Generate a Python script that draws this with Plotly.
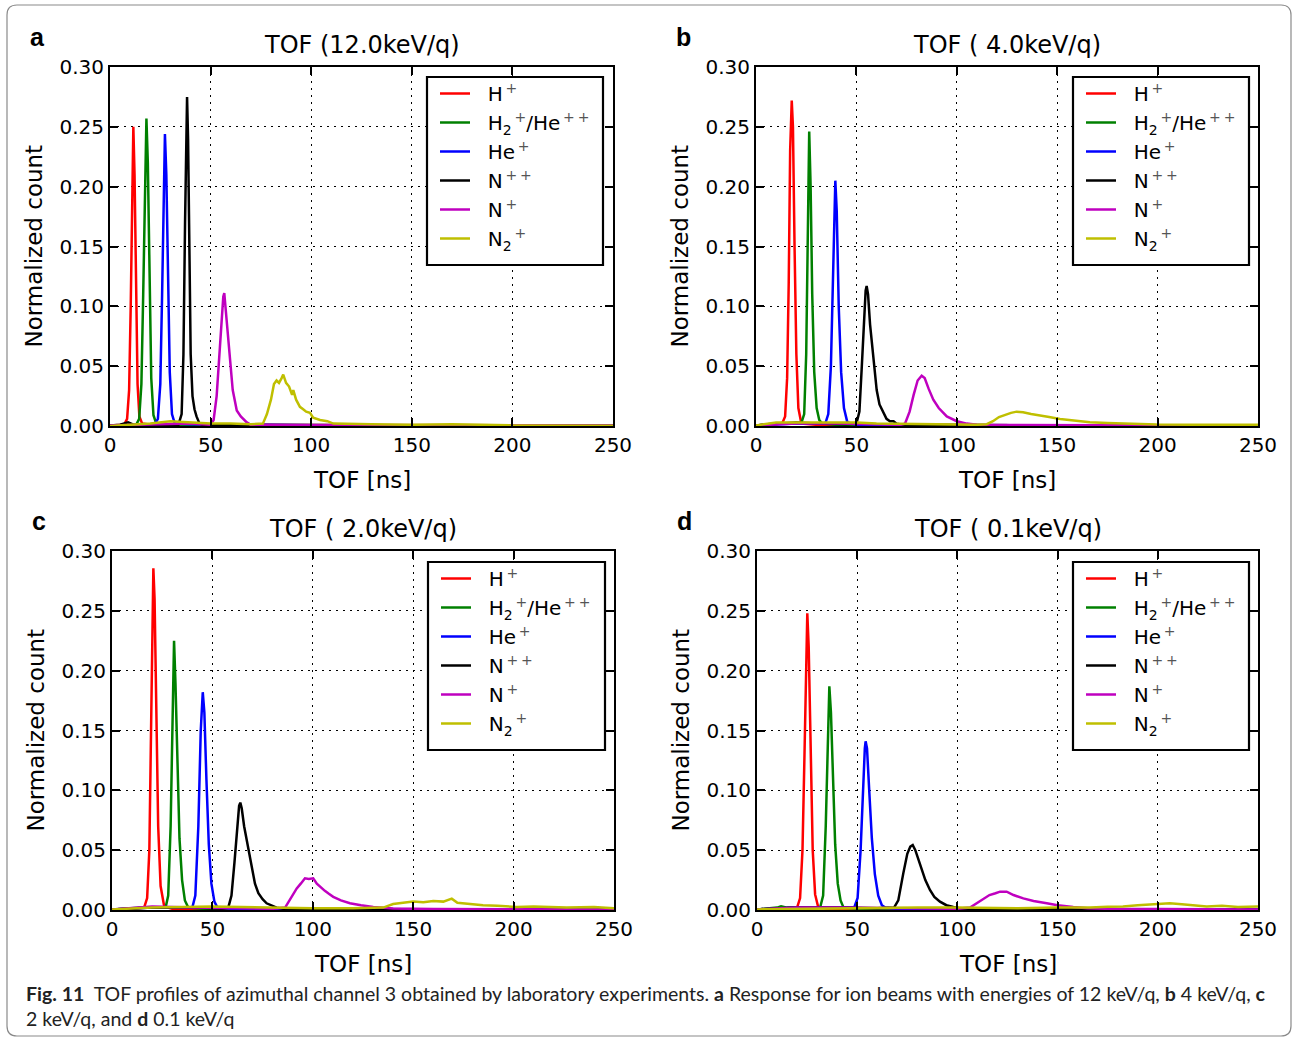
import plotly.graph_objects as go

W, H = 1294, 1041

SP = "\u00a0\u00a0"
G = "\u2009"


def sup(s):
    return "<sup><span style='color:#555'>" + G + s + "</span></sup>"


species = [SP + "H" + sup("+"),
           SP + "H<sub>2</sub>" + sup("+") + "/He" + sup("+" + G + "+"),
           SP + "He" + sup("+"),
           SP + "N" + sup("+" + G + "+"),
           SP + "N" + sup("+"),
           SP + "N<sub>2</sub>" + sup("+")]
colors = ["#ff0000", "#008000", "#0000ff", "#000000", "#bf00bf", "#bfbf00"]
panel_titles = ["TOF (12.0keV/q)", "TOF ( 4.0keV/q)", "TOF ( 2.0keV/q)", "TOF ( 0.1keV/q)"]
panel_letters = ["a", "b", "c", "d"]
x_ticks = [0, 50, 100, 150, 200, 250]
y_ticks = [0.00, 0.05, 0.10, 0.15, 0.20, 0.25, 0.30]

# ---------------- panel a : 12.0 keV/q ----------------
a_H_t = [0, 7, 8.5, 9.5, 10.3, 11.0, 11.6, 12.2, 12.9, 13.7, 14.6, 16, 20, 60, 150, 250]
a_H_n = [0.0005, 0.001, 0.006, 0.03, 0.1, 0.2, 0.25, 0.21, 0.11, 0.035, 0.008, 0.002, 0.001, 0.0008, 0.0005, 0.0003]
a_H2_t = [0, 13, 14.5, 15.6, 16.5, 17.4, 18.1, 18.8, 19.6, 20.5, 21.6, 23, 30, 100, 250]
a_H2_n = [0.0005, 0.001, 0.006, 0.035, 0.11, 0.21, 0.257, 0.22, 0.12, 0.04, 0.009, 0.002, 0.001, 0.0006, 0.0003]
a_He_t = [0, 22, 23.8, 25, 25.9, 26.7, 27.3, 28, 28.8, 29.7, 30.8, 32.2, 40, 100, 250]
a_He_n = [0.0005, 0.001, 0.006, 0.035, 0.11, 0.2, 0.244, 0.21, 0.12, 0.045, 0.01, 0.002, 0.0015, 0.0006, 0.0003]
a_N2p_t = [0, 5, 9, 12, 20, 34, 35.6, 36.5, 37.3, 37.9, 38.3, 38.8, 39.4, 40.1, 41, 42, 43, 44.5, 46, 60, 250]
a_N2p_n = [0.0005, 0.001, 0.003, 0.001, 0.001, 0.001, 0.01, 0.06, 0.17, 0.25, 0.275, 0.24, 0.14, 0.06, 0.025, 0.014, 0.008, 0.002, 0.001, 0.0008, 0.0003]
a_Np_t = [0, 20, 40, 50, 51.5, 53, 54.3, 55.5, 56.3, 56.8, 57.4, 58.2, 59.6, 61, 63, 65, 68, 70, 90, 250]
a_Np_n = [0.0005, 0.0015, 0.002, 0.001, 0.005, 0.025, 0.06, 0.095, 0.108, 0.111, 0.1, 0.08, 0.055, 0.03, 0.013, 0.008, 0.003, 0.001, 0.0008, 0.0005]
a_N2_t = [0, 20, 30, 40, 50, 60, 70, 76, 78, 80, 81.5, 82.8, 84, 85.3, 86.1, 87.5, 89, 90.5, 91.1, 92.5, 94.4, 96, 97.5, 99.4, 101, 104.4, 108, 111, 120, 130, 150, 170, 200, 250]
a_N2_n = [0, 0.002, 0.004, 0.003, 0.002, 0.002, 0.0015, 0.002, 0.01, 0.022, 0.035, 0.038, 0.036, 0.04, 0.043, 0.036, 0.033, 0.026, 0.03, 0.022, 0.016, 0.014, 0.012, 0.011, 0.007, 0.005, 0.004, 0.002, 0.002, 0.0015, 0.001, 0.0015, 0.0005, 0.0003]

# ---------------- panel b : 4.0 keV/q ----------------
b_H_t = [0, 5, 13, 14.5, 15.5, 16.3, 17.0, 17.8, 18.4, 19.2, 20.1, 21.1, 22.6, 30, 100, 250]
b_H_n = [0.0005, 0.001, 0.002, 0.008, 0.04, 0.12, 0.23, 0.272, 0.25, 0.15, 0.06, 0.015, 0.002, 0.001, 0.0006, 0.0003]
b_H2_t = [0, 10, 22.5, 24, 25, 25.8, 26.5, 27.2, 28, 29, 30.2, 31.5, 33, 40, 250]
b_H2_n = [0.0005, 0.002, 0.002, 0.01, 0.06, 0.17, 0.246, 0.2, 0.11, 0.045, 0.015, 0.005, 0.002, 0.001, 0.0003]
b_He_t = [0, 20, 34.5, 36, 37.3, 38.3, 39.0, 39.5, 40.2, 41.2, 42.4, 43.8, 45.5, 50, 250]
b_He_n = [0.0005, 0.002, 0.002, 0.01, 0.05, 0.13, 0.19, 0.205, 0.18, 0.1, 0.045, 0.015, 0.003, 0.001, 0.0003]
b_N2p_t = [0, 10, 20, 30, 45, 50, 51.5, 52.7, 53.8, 54.6, 55.1, 55.8, 56.8, 58.4, 60.1, 61.5, 63.4, 65, 66.7, 68.5, 70, 73.2, 80, 250]
b_N2p_n = [0.0005, 0.002, 0.003, 0.002, 0.0015, 0.002, 0.012, 0.05, 0.095, 0.113, 0.117, 0.11, 0.085, 0.061, 0.03, 0.018, 0.011, 0.006, 0.004, 0.004, 0.002, 0.001, 0.0008, 0.0003]
b_Np_t = [0, 20, 40, 60, 72, 74.2, 76.5, 78.5, 80.5, 82.5, 84, 86, 88.3, 91, 95, 100, 105, 110, 130, 250]
b_Np_n = [0.0005, 0.002, 0.002, 0.001, 0.001, 0.002, 0.012, 0.026, 0.038, 0.042, 0.04, 0.031, 0.022, 0.015, 0.008, 0.004, 0.002, 0.001, 0.0008, 0.0003]
b_N2_t = [0, 10, 30, 50, 60, 80, 100, 110, 114.9, 118, 121, 124, 127, 129.8, 133, 137, 141.4, 146, 151.4, 158, 166.3, 175, 185, 199.5, 220, 250]
b_N2_n = [0.0005, 0.003, 0.003, 0.003, 0.002, 0.0015, 0.001, 0.001, 0.0015, 0.004, 0.0075, 0.0095, 0.011, 0.012, 0.0115, 0.01, 0.009, 0.0075, 0.0058, 0.0045, 0.0032, 0.0025, 0.002, 0.0012, 0.001, 0.001]

# ---------------- panel c : 2.0 keV/q ----------------
c_H_t = [0, 10, 16, 17.5, 18.6, 19.4, 20.1, 20.6, 21.2, 22.0, 23.0, 24.2, 26, 30, 100, 250]
c_H_n = [0.0005, 0.001, 0.002, 0.01, 0.05, 0.14, 0.25, 0.2855, 0.26, 0.16, 0.07, 0.02, 0.003, 0.001, 0.0006, 0.0003]
c_H2_t = [0, 15, 26.7, 28, 29.2, 30.2, 30.9, 31.6, 32.5, 33.6, 34.9, 36.3, 38, 45, 250]
c_H2_n = [0.0005, 0.002, 0.002, 0.012, 0.07, 0.18, 0.225, 0.19, 0.12, 0.06, 0.025, 0.008, 0.002, 0.001, 0.0003]
c_He_t = [0, 20, 40, 41.5, 43, 44.2, 45.2, 46.0, 47, 48.2, 49.5, 51, 52.5, 60, 250]
c_He_n = [0.0005, 0.002, 0.002, 0.012, 0.07, 0.15, 0.182, 0.165, 0.11, 0.055, 0.022, 0.007, 0.002, 0.001, 0.0003]
c_N2p_t = [0, 20, 40, 55, 57.9, 59.5, 61, 62.3, 63.3, 63.9, 64.6, 65.8, 67.1, 68.3, 69.6, 71.2, 72.9, 75, 77, 79.5, 82, 85, 100, 250]
c_N2p_n = [0.0005, 0.002, 0.002, 0.001, 0.002, 0.012, 0.04, 0.07, 0.087, 0.0897, 0.085, 0.07, 0.0585, 0.047, 0.0334, 0.022, 0.014, 0.009, 0.0056, 0.004, 0.002, 0.001, 0.0008, 0.0003]
c_Np_t = [0, 20, 40, 60, 80, 86.2, 88, 90, 92, 94, 96.1, 98, 100.2, 102, 103.6, 106, 108, 110.2, 114, 118.5, 124, 130.1, 140, 160, 250]
c_Np_n = [0.0005, 0.003, 0.002, 0.0015, 0.001, 0.002, 0.007, 0.012, 0.018, 0.022, 0.0265, 0.026, 0.0265, 0.022, 0.0195, 0.016, 0.0135, 0.011, 0.008, 0.0056, 0.004, 0.0025, 0.0012, 0.0008, 0.0004]
c_N2_t = [0, 20, 50, 80, 100, 120, 135.1, 140, 145, 150, 155, 160, 165, 169.2, 172, 178, 184.8, 192, 201.5, 210, 226.4, 240, 250]
c_N2_n = [0.0005, 0.002, 0.003, 0.002, 0.0015, 0.0015, 0.002, 0.005, 0.006, 0.007, 0.0065, 0.0075, 0.007, 0.0095, 0.006, 0.005, 0.004, 0.0035, 0.0025, 0.003, 0.002, 0.0025, 0.0015]

# ---------------- panel d : 0.1 keV/q ----------------
d_H_t = [0, 10, 20, 21.5, 22.7, 23.7, 24.5, 25.1, 25.8, 26.7, 27.8, 29, 30.6, 35, 250]
d_H_n = [0.0005, 0.001, 0.002, 0.01, 0.05, 0.13, 0.215, 0.248, 0.22, 0.13, 0.05, 0.013, 0.002, 0.001, 0.0003]
d_H2_t = [0, 10, 12, 15, 31.5, 33, 34.3, 35.3, 36.1, 36.9, 37.9, 39, 40.3, 41.7, 43.2, 50, 250]
d_H2_n = [0.0005, 0.002, 0.003, 0.002, 0.002, 0.012, 0.07, 0.15, 0.187, 0.165, 0.11, 0.055, 0.022, 0.008, 0.002, 0.001, 0.0003]
d_He_t = [0, 20, 48.5, 50.2, 51.7, 53, 53.8, 54.2, 54.9, 56, 57.3, 58.8, 60.5, 62.3, 64, 70, 250]
d_He_n = [0.0005, 0.002, 0.002, 0.01, 0.05, 0.11, 0.135, 0.141, 0.135, 0.1, 0.06, 0.03, 0.012, 0.004, 0.002, 0.001, 0.0003]
d_N2p_t = [0, 20, 40, 60, 68.4, 70.5, 73, 75, 76.5, 77.7, 79, 80.5, 82.2, 84, 86.3, 88.5, 91.3, 94.5, 98, 102, 110, 250]
d_N2p_n = [0.0005, 0.002, 0.002, 0.0015, 0.002, 0.008, 0.0306, 0.047, 0.053, 0.0543, 0.05, 0.042, 0.033, 0.025, 0.0167, 0.011, 0.007, 0.004, 0.0025, 0.001, 0.0008, 0.0003]
d_Np_t = [0, 20, 40, 60, 80, 100, 106.3, 110, 112.9, 116, 119, 121.3, 124.6, 128, 132.9, 138, 144.6, 150, 157.8, 165, 174.5, 200, 250]
d_Np_n = [0.0005, 0.002, 0.002, 0.0015, 0.001, 0.001, 0.002, 0.006, 0.0097, 0.0125, 0.014, 0.0153, 0.0153, 0.0125, 0.0097, 0.0075, 0.0056, 0.004, 0.0025, 0.0015, 0.001, 0.0008, 0.0004]
d_N2_t = [0, 20, 50, 80, 100, 130, 150, 166.2, 175, 182.6, 190, 198, 206, 212, 218, 224.4, 232, 240, 250]
d_N2_n = [0.0005, 0.001, 0.0015, 0.002, 0.002, 0.0015, 0.002, 0.002, 0.0028, 0.003, 0.004, 0.0045, 0.0056, 0.0048, 0.004, 0.003, 0.0035, 0.0025, 0.003]

panel_data = [
    [(a_H_t, a_H_n), (a_H2_t, a_H2_n), (a_He_t, a_He_n), (a_N2p_t, a_N2p_n), (a_Np_t, a_Np_n), (a_N2_t, a_N2_n)],
    [(b_H_t, b_H_n), (b_H2_t, b_H2_n), (b_He_t, b_He_n), (b_N2p_t, b_N2p_n), (b_Np_t, b_Np_n), (b_N2_t, b_N2_n)],
    [(c_H_t, c_H_n), (c_H2_t, c_H2_n), (c_He_t, c_He_n), (c_N2p_t, c_N2p_n), (c_Np_t, c_Np_n), (c_N2_t, c_N2_n)],
    [(d_H_t, d_H_n), (d_H2_t, d_H2_n), (d_He_t, d_He_n), (d_N2p_t, d_N2p_n), (d_Np_t, d_Np_n), (d_N2_t, d_N2_n)],
]

# ---------------- layout geometry (pixels) ----------------
plot_boxes = [  # left, right, top, bottom
    (110, 613, 67, 426),
    (756, 1258, 67, 426),
    (112, 614, 551, 910),
    (757, 1258, 551, 910),
]
legend_boxes = [  # left, right, top, bottom
    (427, 603, 77, 265),
    (1073, 1249, 77, 265),
    (428, 605, 562, 750),
    (1073, 1249, 562, 750),
]


def px(x):
    return x / W


def py(y):
    return 1 - y / H


FONT = "DejaVu Sans"
fig = go.Figure()
legend_names = ["legend", "legend2", "legend3", "legend4"]

for p in range(4):
    suffix = "" if p == 0 else str(p + 1)
    for s in range(6):
        t, n = panel_data[p][s]
        fig.add_trace(go.Scatter(
            x=t, y=n, mode="lines", name=species[s],
            line=dict(color=colors[s], width=2.5),
            xaxis="x" + suffix, yaxis="y" + suffix,
            legend=legend_names[p], showlegend=True, hoverinfo="skip",
        ))

layout = dict(
    template="none",
    width=W, height=H, margin=dict(l=0, r=0, t=0, b=0, pad=0, autoexpand=False),
    paper_bgcolor="white", plot_bgcolor="white",
    font=dict(family=FONT, color="black"),
    shapes=[], annotations=[],
)

for p in range(4):
    l, r, t, b = plot_boxes[p]
    suffix = "" if p == 0 else str(p + 1)
    common = dict(
        showline=True, linecolor="black", linewidth=2, mirror="ticks",
        ticks="inside", ticklen=8, tickwidth=1.5, tickcolor="black",
        showgrid=True, gridcolor="black", gridwidth=1.2, griddash="2px,5px",
        zeroline=False, automargin=False,
        tickfont=dict(family=FONT, size=20, color="black"),
    )
    layout["xaxis" + suffix] = dict(
        domain=[px(l), px(r)], range=[0, 250], tickvals=x_ticks,
        anchor="y" + suffix, **common)
    layout["yaxis" + suffix] = dict(
        domain=[py(b), py(t)], range=[0, 0.30], tickvals=y_ticks, tickformat=".2f",
        anchor="x" + suffix, **common)

    layout["annotations"] += [
        dict(text=panel_titles[p], x=px((l + r) / 2), y=py(t - 22), xref="paper", yref="paper",
             showarrow=False, font=dict(family=FONT, size=24), xanchor="center", yanchor="middle"),
        dict(text="TOF [ns]", x=px((l + r) / 2), y=py(b + 54), xref="paper", yref="paper",
             showarrow=False, font=dict(family=FONT, size=23), xanchor="center", yanchor="middle"),
        dict(text="Normalized count", x=px(l - 77), y=py((t + b) / 2), xref="paper", yref="paper",
             showarrow=False, textangle=-90, font=dict(family=FONT, size=23),
             xanchor="center", yanchor="middle"),
        dict(text="<b>" + panel_letters[p] + "</b>", x=px(l - 73), y=py(t - 30), xref="paper", yref="paper",
             showarrow=False, font=dict(family="Liberation Sans", size=25), xanchor="center", yanchor="middle"),
    ]

    L, R, T, B = legend_boxes[p]
    layout["shapes"].append(dict(type="rect", xref="paper", yref="paper",
                                 x0=px(L), x1=px(R), y0=py(B), y1=py(T),
                                 line=dict(color="black", width=2.2), fillcolor="white", layer="above"))
    layout[legend_names[p]] = dict(
        x=px(L + 8), y=py(T - 3), xanchor="left", yanchor="top",
        bgcolor="rgba(0,0,0,0)", borderwidth=0,
        font=dict(family=FONT, size=20, color="black"),
        itemclick=False, itemdoubleclick=False,
    )

# outer rounded border
x0, x1, y0, y1, rr = px(7), px(1291), py(5), py(1036), 10
rx, ry = rr / W, rr / H
path = (f"M {x0 + rx},{y0} L {x1 - rx},{y0} Q {x1},{y0} {x1},{y0 - ry} "
        f"L {x1},{y1 + ry} Q {x1},{y1} {x1 - rx},{y1} L {x0 + rx},{y1} Q {x0},{y1} {x0},{y1 + ry} "
        f"L {x0},{y0 - ry} Q {x0},{y0} {x0 + rx},{y0} Z")
layout["shapes"].append(dict(type="path", xref="paper", yref="paper", path=path,
                             line=dict(color="#8a8a8a", width=1.2), layer="below"))

CAP_FONT = "Lato, Open Sans, sans-serif"
layout["annotations"] += [
    dict(text="<b>Fig. 11</b>  TOF profiles of azimuthal channel 3 obtained by laboratory experiments. "
              "<b>a</b> Response for ion beams with energies of 12 keV/q, <b>b</b> 4 keV/q, <b>c</b>",
         x=px(24), y=py(993), xref="paper", yref="paper", showarrow=False,
         xanchor="left", yanchor="middle", font=dict(family=CAP_FONT, size=19.5, color="#222")),
    dict(text="2 keV/q, and <b>d</b> 0.1 keV/q",
         x=px(24), y=py(1018), xref="paper", yref="paper", showarrow=False,
         xanchor="left", yanchor="middle", font=dict(family=CAP_FONT, size=19.5, color="#222")),
]

fig.update_layout(**layout)
fig.write_html("out.html", config={"displayModeBar": False},
               post_script="document.body.style.margin='0';document.body.style.overflow='hidden';")
